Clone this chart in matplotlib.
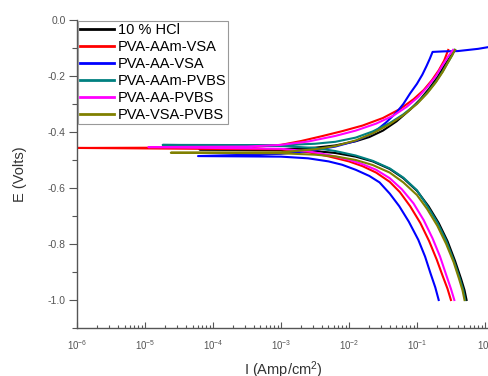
import numpy as np
import matplotlib
matplotlib.use("Agg")
import matplotlib.pyplot as plt
from matplotlib.ticker import LogLocator, LogFormatterSciNotation, MultipleLocator, FormatStrFormatter, NullFormatter

plt.rcParams['font.family'] = ['Liberation Sans', 'DejaVu Sans']
plt.rcParams['axes.unicode_minus'] = False
plt.rcParams['mathtext.default'] = 'regular'

labels = ["10 % HCl", "PVA-AAm-VSA", "PVA-AA-VSA", "PVA-AAm-PVBS", "PVA-AA-PVBS", "PVA-VSA-PVBS"]
colors = ["#000000", "#ff0000", "#0000ff", "#008080", "#ff00ff", "#808000"]

# corrosion potential (V) and log10 of the lowest current reached at it (A/cm2)
e_corr = [-0.462, -0.457, -0.486, -0.446, -0.454, -0.474]
logi_min = [-4.2, -6.0, -4.22, -4.74, -4.95, -4.62]

# cathodic branches: log10 current (A/cm2) and potential (V), from Ecorr down to -1.0 V
cath_logi = [
    [-3.0, -2.5, -2.2, -1.9, -1.65, -1.4, -1.2, -1.0, -0.83, -0.68, -0.55, -0.44, -0.35, -0.30, -0.27],
    [-3.0, -2.6, -2.3, -2.0, -1.8, -1.6, -1.4, -1.25, -1.1, -0.95, -0.82, -0.71, -0.62, -0.55, -0.50],
    [-3.0, -2.6, -2.3, -2.1, -1.9, -1.7, -1.55, -1.4, -1.26, -1.12, -0.98, -0.88, -0.80, -0.73, -0.68],
    [-3.0, -2.5, -2.2, -1.9, -1.65, -1.4, -1.2, -1.0, -0.85, -0.70, -0.57, -0.46, -0.37, -0.32, -0.29],
    [-3.0, -2.6, -2.3, -2.0, -1.8, -1.6, -1.4, -1.22, -1.05, -0.90, -0.77, -0.66, -0.57, -0.50, -0.45],
    [-3.0, -2.5, -2.2, -1.9, -1.65, -1.4, -1.2, -1.0, -0.85, -0.70, -0.57, -0.46, -0.38, -0.33, -0.30],
]
cath_e = [
    [-0.463, -0.468, -0.475, -0.488, -0.505, -0.532, -0.565, -0.610, -0.665, -0.725, -0.790, -0.860, -0.925, -0.965, -1.0],
    [-0.462, -0.472, -0.487, -0.505, -0.522, -0.545, -0.578, -0.615, -0.665, -0.725, -0.790, -0.855, -0.915, -0.960, -1.0],
    [-0.488, -0.494, -0.505, -0.517, -0.535, -0.557, -0.580, -0.620, -0.665, -0.720, -0.785, -0.845, -0.905, -0.955, -1.0],
    [-0.450, -0.457, -0.468, -0.484, -0.503, -0.530, -0.563, -0.608, -0.663, -0.723, -0.788, -0.858, -0.923, -0.963, -1.0],
    [-0.460, -0.469, -0.482, -0.499, -0.515, -0.535, -0.565, -0.605, -0.655, -0.715, -0.780, -0.845, -0.910, -0.960, -1.0],
    [-0.476, -0.481, -0.487, -0.500, -0.518, -0.545, -0.580, -0.625, -0.675, -0.735, -0.800, -0.865, -0.925, -0.965, -1.0],
]

# anodic branches: log10 current (A/cm2) and potential (V), from Ecorr upwards
anod_logi = [
    [-3.0, -2.5, -2.2, -1.9, -1.7, -1.5, -1.3, -1.1, -0.95, -0.82, -0.70, -0.60, -0.50, -0.44],
    [-3.5, -3.0, -2.7, -2.4, -2.1, -1.8, -1.5, -1.25, -1.05, -0.90, -0.78, -0.68, -0.60, -0.54],
    [-3.0, -2.6, -2.2, -1.9, -1.65, -1.45, -1.3, -1.2, -1.1, -1.0, -0.92, -0.86, -0.81, -0.77, -0.6, -0.4, -0.25, -0.1, 0.07],
    [-3.0, -2.5, -2.2, -1.9, -1.65, -1.4, -1.2, -1.0, -0.85, -0.72, -0.62, -0.54, -0.48, -0.45],
    [-3.5, -3.0, -2.6, -2.2, -1.9, -1.6, -1.35, -1.15, -0.98, -0.85, -0.72, -0.62, -0.54, -0.47],
    [-3.0, -2.5, -2.2, -1.9, -1.65, -1.4, -1.2, -1.0, -0.85, -0.72, -0.62, -0.54, -0.48, -0.44],
]
anod_e = [
    [-0.462, -0.456, -0.448, -0.433, -0.418, -0.395, -0.362, -0.320, -0.283, -0.245, -0.205, -0.165, -0.128, -0.107],
    [-0.455, -0.446, -0.432, -0.415, -0.397, -0.377, -0.350, -0.318, -0.283, -0.250, -0.215, -0.180, -0.145, -0.107],
    [-0.478, -0.468, -0.452, -0.432, -0.405, -0.365, -0.330, -0.300, -0.262, -0.228, -0.195, -0.165, -0.138, -0.114, -0.112, -0.111, -0.107, -0.103, -0.096],
    [-0.447, -0.442, -0.435, -0.420, -0.398, -0.368, -0.337, -0.298, -0.260, -0.220, -0.183, -0.150, -0.125, -0.107],
    [-0.452, -0.446, -0.434, -0.414, -0.395, -0.370, -0.342, -0.310, -0.275, -0.240, -0.200, -0.160, -0.130, -0.107],
    [-0.472, -0.462, -0.450, -0.430, -0.405, -0.372, -0.340, -0.300, -0.262, -0.222, -0.185, -0.150, -0.125, -0.107],
]

fig = plt.figure(figsize=(4.89, 3.76), dpi=100)
ax = fig.add_axes([77/489, 1 - 328/376, 1 - 77/489, 308/376])

for k in range(len(labels)):
    li = list(cath_logi[k][::-1]) + [logi_min[k]] + list(anod_logi[k])
    ee = list(cath_e[k][::-1]) + [e_corr[k]] + list(anod_e[k])
    ax.plot(np.power(10.0, li), ee, color=colors[k], lw=1.5, label=labels[k],
            solid_joinstyle='round')

ax.set_xscale('log')
ax.set_xlim(1e-6, 10**0.06)
ax.set_ylim(-1.1, 0.0)

for s in ['top', 'right']:
    ax.spines[s].set_visible(False)
for s in ['left', 'bottom']:
    ax.spines[s].set_color('#555555')
    ax.spines[s].set_linewidth(1.0)

ax.xaxis.set_major_locator(LogLocator(base=10, numticks=20))
ax.xaxis.set_minor_locator(LogLocator(base=10, subs=np.arange(2, 10), numticks=50))
ax.xaxis.set_minor_formatter(NullFormatter())
ax.xaxis.set_major_formatter(LogFormatterSciNotation())
ax.tick_params(axis='x', which='major', direction='in', length=4, width=0.8, colors='#555555', labelsize=7, pad=7)
ax.tick_params(axis='x', which='minor', direction='in', length=2.5, width=0.8, colors='#555555')

ax.yaxis.set_major_locator(MultipleLocator(0.2))
ax.yaxis.set_minor_locator(MultipleLocator(0.1))
ax.yaxis.set_major_formatter(FormatStrFormatter('%.1f'))
ax.tick_params(axis='y', which='major', direction='out', length=6, width=0.8, colors='#555555', labelsize=7.5, pad=2)
ax.tick_params(axis='y', which='minor', direction='out', length=3.5, width=0.8, colors='#555555')

ax.set_xlabel('I (Amp/cm$^2$)', fontsize=10.5, color='#333333', labelpad=6)
ax.set_ylabel('E (Volts)', fontsize=10.5, color='#333333', labelpad=15)

leg = ax.legend(loc='upper left', bbox_to_anchor=(0.003, 0.997), fontsize=10.5, frameon=True,
                fancybox=False, edgecolor='#999999', framealpha=1, borderpad=0.15,
                labelspacing=0.2, handlelength=2.3, handletextpad=0.25, borderaxespad=0.0)
leg.get_frame().set_linewidth(0.8)
for line in leg.get_lines():
    line.set_linewidth(2.0)

fig.savefig('out.png', dpi=100)
